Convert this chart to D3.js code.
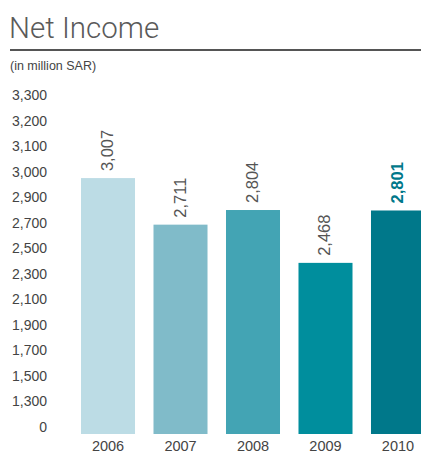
<!DOCTYPE html>
<html>
<head>
<meta charset="utf-8">
<script src="https://cdn.jsdelivr.net/npm/d3@7"></script>
<style>
  html, body { margin: 0; padding: 0; background: #fff; }
  svg { display: block; }
  text { font-family: "Liberation Sans", Arial, sans-serif; }
</style>
</head>
<body>
<script>
// Net income by year, in million SAR
const years = ["2006", "2007", "2008", "2009", "2010"];
const netIncome = [3007, 2711, 2804, 2468, 2801];
const barColors = ["#bcdce5", "#80bbc9", "#43a4b4", "#008e9d", "#00788a"];
// Axis labels printed down the left side, bottom to top
const tickLabels = ["0", "1,300", "1,500", "1,700", "1,900", "2,100", "2,300",
                    "2,500", "2,700", "2,900", "3,000", "3,100", "3,200", "3,300"];
const highlightYear = "2010";

const W = 421, H = 454;
const svg = d3.select("body").append("svg").attr("width", W).attr("height", H);

// Title block
svg.append("text")
  .attr("x", 9).attr("y", 38)
  .attr("font-size", 29.5).attr("fill", "#5a5a5a")
  .attr("font-weight", 300)
  .style("font-family", "Roboto, 'Liberation Sans', sans-serif")
  .text("Net Income");
svg.append("rect")
  .attr("x", 10).attr("y", 49).attr("width", W - 10).attr("height", 2)
  .attr("fill", "#555");
svg.append("text")
  .attr("x", 10).attr("y", 69.5)
  .attr("font-size", 12.5).attr("fill", "#444")
  .text("(in million SAR)");

// Scales
const x = d3.scaleBand().domain(years).range([81, 425]).paddingInner(0.255).paddingOuter(0);
const y = d3.scaleLinear().domain([1380, 3300]).range([434, 132]);
const yLabel = d3.scalePoint().domain(tickLabels).range([427, 95]);

// Left axis labels
const yAxis = d3.axisLeft(yLabel).tickSize(0).tickPadding(0);
const gy = svg.append("g").attr("transform", "translate(47,0)").call(yAxis);
gy.select(".domain").remove();
gy.selectAll("text")
  .attr("font-size", 14).attr("fill", "#444")
  .style("font-family", "'Liberation Sans', Arial, sans-serif");

// Bottom axis labels
const xAxis = d3.axisBottom(x).tickSize(0).tickPadding(0);
const gx = svg.append("g").attr("transform", "translate(0,441)").call(xAxis);
gx.select(".domain").remove();
gx.selectAll("text")
  .attr("font-size", 14.5).attr("fill", "#444")
  .style("font-family", "'Liberation Sans', Arial, sans-serif");

const data = years.map((yr, i) => ({ year: yr, value: netIncome[i], color: barColors[i] }));

// Bars
svg.append("g").selectAll("rect").data(data).join("rect")
  .attr("x", d => x(d.year))
  .attr("y", d => y(d.value))
  .attr("width", x.bandwidth())
  .attr("height", d => y.range()[0] - y(d.value))
  .attr("fill", d => d.color);

// Vertical value labels above bars
const fmt = d3.format(",");
svg.append("g").selectAll("text").data(data).join("text")
  .attr("transform", d => `translate(${x(d.year) + x.bandwidth() / 2 + 5},${y(d.value) - 7}) rotate(-90)`)
  .attr("font-size", 16.5)
  .attr("font-weight", d => d.year === highlightYear ? "bold" : "normal")
  .attr("fill", d => d.year === highlightYear ? "#00788a" : "#555")
  .text(d => fmt(d.value));
</script>
</body>
</html>
